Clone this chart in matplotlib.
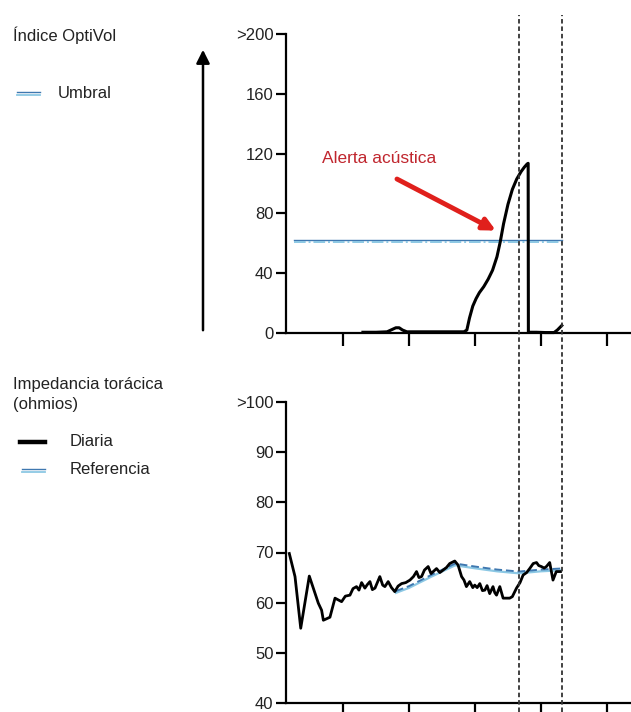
import matplotlib
matplotlib.use("Agg")
import matplotlib.pyplot as plt
from matplotlib.lines import Line2D
from matplotlib.transforms import blended_transform_factory

plt.rcParams['font.family'] = ['Liberation Sans', 'DejaVu Sans']

# ---- data ----
x_ticks = [30, 60, 90, 120, 150]
optivol_ticks = [0, 40, 80, 120, 160, 200]
optivol_ticklabels = ['0', '40', '80', '120', '160', '>200']
imp_ticks = [40, 50, 60, 70, 80, 90, 100]
imp_ticklabels = ['40', '50', '60', '70', '80', '90', '>100']

optivol_days = [39, 45, 50, 52.5, 54, 55.5, 57, 59, 65, 75, 85, 86.3, 87.5, 89, 90.5,
                92, 94, 96, 98, 100, 101.5, 103, 105, 107, 109, 111, 112.5, 113.7,
                114.2, 114.3, 118, 122, 126, 127.5, 129.5]
optivol_vals = [0.5, 0.5, 0.8, 2.5, 3.5, 3.5, 2, 0.8, 0.8, 0.8, 0.8, 2, 10, 18, 23,
                27, 31, 36, 42, 51, 61, 73, 86, 96, 103, 108, 111, 113,
                113.5, 0.5, 0.5, 0.3, 0.3, 2, 5]
threshold_days = [7.6, 129.5]
threshold_vals = [61.5, 61.5]

imp_days = [5.5, 8.1, 10.7, 14.6, 18.7, 20.2, 21, 24, 26.3, 28, 29.3, 31, 33.1, 34.5,
            36.1, 37.2, 38.4, 39.9, 41, 42.2, 43.3, 44.5, 46.7, 48, 49, 50.5, 52, 53.5,
            55, 56.6, 58.5, 60.4, 62, 63.4, 64.5, 65.7, 67, 68.7, 70, 71, 72.5, 74, 75.5,
            77, 78.5, 80.8, 82.3, 83.9, 85, 86.1, 87.6, 89, 89.9, 91, 92.2, 93.4, 94.5,
            95.5, 96.7, 98.2, 99, 99.8, 101.3, 102.8, 105.8, 107, 108.9, 110.5, 111.9,
            113.5, 114.9, 116.5, 118, 119, 120.2, 121.5, 122.5, 124, 125.5, 127, 128.9]
imp_vals = [69.8, 65.2, 54.9, 65.3, 59.9, 58.5, 56.5, 57.1, 60.9, 60.5, 60.2, 61.3, 61.5, 62.8,
            63.2, 62.5, 64.0, 62.9, 63.6, 64.2, 62.6, 62.9, 65.2, 63.5, 63.2, 64.2, 63.0, 62.2,
            63.3, 63.8, 64.0, 64.5, 65.2, 66.2, 65.0, 65.2, 66.5, 67.2, 65.8, 66.2, 66.8, 66.0, 66.5,
            67.0, 67.8, 68.3, 67.5, 65.2, 64.5, 63.2, 64.2, 63.0, 63.5, 63.0, 63.8, 62.4, 62.5,
            63.4, 61.8, 63.2, 62.0, 61.5, 63.2, 60.9, 60.9, 61.2, 62.9, 64.0, 65.5,
            66.0, 66.8, 67.8, 68.0, 67.4, 67.2, 66.9, 67.2, 68.0, 64.5, 66.2, 66.2]
ref_days = [54, 60, 70, 81, 90, 100, 110, 120, 129]
ref_vals = [62.3, 63.3, 65.5, 67.8, 67.2, 66.6, 66.2, 66.6, 66.8]

event_days = [110, 129.5]

# ---- figure ----
W, H = 631, 712
fig = plt.figure(figsize=(W / 100, H / 100), dpi=100)

ax1 = fig.add_axes([286 / W, 1 - 333 / H, 1 - 286 / W, (333 - 34) / H])
ax2 = fig.add_axes([286 / W, 1 - 703 / H, 1 - 286 / W, (703 - 402) / H])

xlim = (4, 161)
dark_blue = '#3f78b0'
light_blue = '#8cc8e4'

for ax in (ax1, ax2):
    ax.set_xlim(*xlim)
    ax.set_xticks(x_ticks)
    ax.set_xticklabels([])
    for s in ('top', 'right'):
        ax.spines[s].set_visible(False)
    for s in ('left', 'bottom'):
        ax.spines[s].set_linewidth(1.6)
    ax.tick_params(axis='x', length=9.5, width=1.6, direction='out')
    ax.tick_params(axis='y', length=7, width=1.6, direction='out', labelsize=12,
                   pad=2, colors='black', labelcolor='#222222')
    ax.patch.set_alpha(0)

# top: OptiVol
ax1.set_ylim(0, 200)
ax1.set_yticks(optivol_ticks)
ax1.set_yticklabels(optivol_ticklabels)
ax1.plot(threshold_days, [v + 0.9 for v in threshold_vals], color=dark_blue, lw=1.0)
ax1.plot(threshold_days, [v - 0.9 for v in threshold_vals], color=light_blue, lw=1.4,
         linestyle=(0, (6, 1.5, 1, 1.5)))
ax1.plot(optivol_days, optivol_vals, color='black', lw=2.2, clip_on=False,
         solid_joinstyle='round')

ax1.text(20.4, 116.7, 'Alerta acústica', color='#c0262e', fontsize=12.5,
         va='center', ha='left')
ax1.annotate('', xy=(99.5, 68.5), xytext=(54.5, 103),
             arrowprops=dict(arrowstyle='-|>', color='#e0201c', lw=3.5,
                             mutation_scale=18, shrinkA=0, shrinkB=0))

# bottom: impedance
ax2.set_ylim(40, 100)
ax2.set_yticks(imp_ticks)
ax2.set_yticklabels(imp_ticklabels)
ax2.plot(ref_days, [v - 0.35 for v in ref_vals], color=light_blue, lw=1.6)
ax2.plot(ref_days, ref_vals, color=dark_blue, lw=1.4, linestyle=(0, (4, 2)))
ax2.plot(imp_days, imp_vals, color='black', lw=2.0, solid_joinstyle='round')

# vertical event lines spanning both panels
tr = blended_transform_factory(ax1.transData, fig.transFigure)
for d in event_days:
    fig.add_artist(Line2D([d, d], [0, 1 - 15 / H], transform=tr, color='#333333',
                          lw=1.3, linestyle=(0, (2.5, 1.6))))

# big black arrow on the left
fig.add_artist(plt.matplotlib.patches.FancyArrowPatch(
    (203 / W, 1 - 333 / H), (203 / W, 1 - 47 / H), transform=fig.transFigure,
    arrowstyle='-|>', mutation_scale=20, lw=1.8, color='black'))

# legends / labels
fs = 12
fig.text(13 / W, 1 - 35 / H, 'Índice OptiVol', fontsize=fs, va='center', ha='left',
         color='#222222')
fig.add_artist(Line2D([17 / W, 40 / W], [1 - 91.5 / H] * 2, transform=fig.transFigure,
                      color=dark_blue, lw=1.0))
fig.add_artist(Line2D([17 / W, 40 / W], [1 - 94.5 / H] * 2, transform=fig.transFigure,
                      color=light_blue, lw=1.3))
fig.text(58 / W, 1 - 93 / H, 'Umbral', fontsize=fs, va='center', ha='left', color='#222222')

fig.text(13 / W, 1 - 385 / H, 'Impedancia torácica', fontsize=fs, va='center', ha='left',
         color='#222222')
fig.text(13 / W, 1 - 405 / H, '(ohmios)', fontsize=fs, va='center', ha='left',
         color='#222222')
fig.add_artist(Line2D([20 / W, 45 / W], [1 - 442 / H] * 2, transform=fig.transFigure,
                      color='black', lw=3.2))
fig.text(70 / W, 1 - 441 / H, 'Diaria', fontsize=fs, va='center', ha='left', color='#222222')
fig.add_artist(Line2D([22 / W, 45 / W], [1 - 469 / H] * 2, transform=fig.transFigure,
                      color=dark_blue, lw=1.0))
fig.add_artist(Line2D([22 / W, 45 / W], [1 - 472 / H] * 2, transform=fig.transFigure,
                      color=light_blue, lw=1.3))
fig.text(70 / W, 1 - 470 / H, 'Referencia', fontsize=fs, va='center', ha='left',
         color='#222222')

fig.savefig('out.png', dpi=100, facecolor='white')
